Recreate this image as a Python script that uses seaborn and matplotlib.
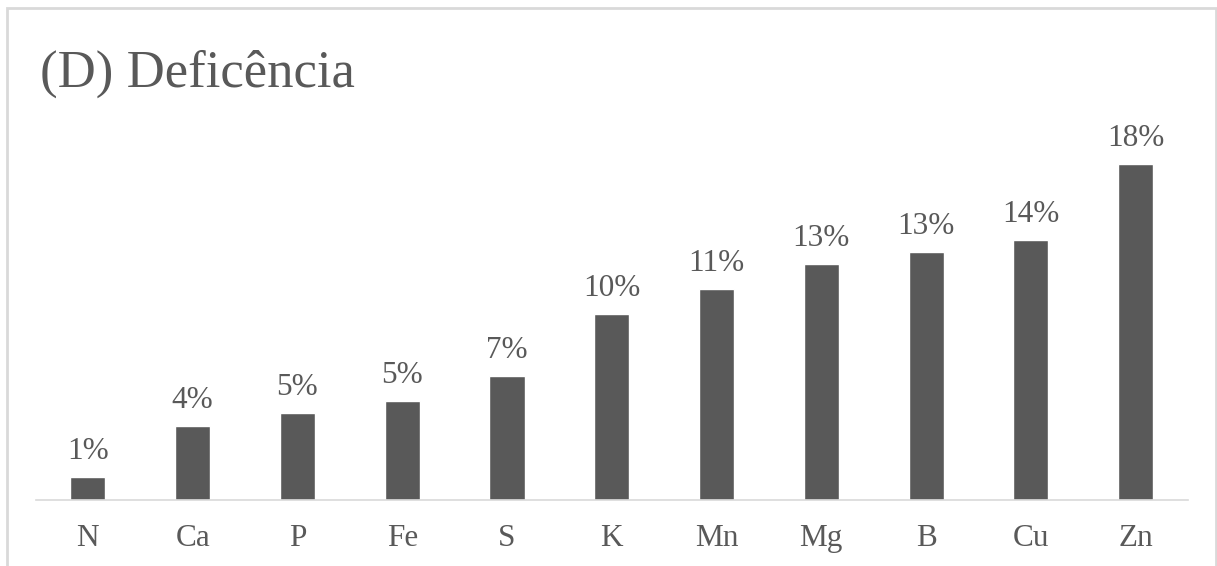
import matplotlib
matplotlib.use("Agg")
import matplotlib.pyplot as plt
import seaborn as sns
import pandas as pd
from matplotlib.patches import Rectangle

# nutrient deficiency share
nutrients = ["N", "Ca", "P", "Fe", "S", "K", "Mn", "Mg", "B", "Cu", "Zn"]
deficiency = [1.22, 3.95, 4.63, 5.31, 6.63, 9.95, 11.29, 12.65, 13.29, 13.94, 18.0]
title = "(D) Deficência"

df = pd.DataFrame({"nutrient": nutrients, "pct": deficiency})

sns.set_style("white")
plt.rcParams["font.family"] = ["Liberation Serif", "DejaVu Serif"]

grey = "#595959"
W, H = 1217, 566
fig = plt.figure(figsize=(W / 100, H / 100), dpi=100)

# axes placed in pixels: baseline at y=499.5, x from 35 to 1188, 18.62 px per %
ymax = 20
px_per = 18.62
left, right, base = 35.5, 1188, 499.5
ax = fig.add_axes([left / W, (H - base) / H, (right - left) / W, ymax * px_per / H])

sns.barplot(data=df, x="nutrient", y="pct", color=grey, saturation=1,
            width=0.335, ax=ax)
ax.set_ylim(0, ymax)
ax.set_xlim(-0.5, len(nutrients) - 0.5)

for c in ax.containers:
    ax.bar_label(c, fmt=lambda v: f"{v:.0f}%", padding=8, fontsize=22.5, color=grey)

ax.set_xlabel("")
ax.set_ylabel("")
ax.set_yticks([])
ax.tick_params(axis="x", length=0, pad=17.5, labelsize=22.5, labelcolor=grey)
for side in ["left", "right", "top"]:
    ax.spines[side].set_visible(False)
ax.spines["bottom"].set_color("#d9d9d9")
ax.spines["bottom"].set_linewidth(1.2)

fig.text(40 / W, 1 - 87 / H, title, fontsize=38, color=grey, va="baseline")

# light grey chart frame
fig.patches.append(Rectangle((7 / W, -0.1), (1216 - 7) / W, 1 - 8 / H + 0.1,
                             transform=fig.transFigure, fill=False,
                             edgecolor="#d9d9d9", linewidth=2))

fig.savefig("out.png", dpi=100)
